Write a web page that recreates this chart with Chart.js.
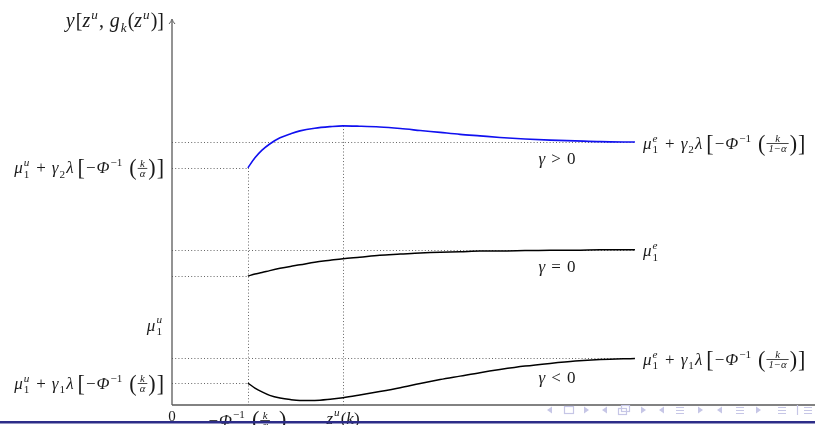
<!DOCTYPE html>
<html>
<head>
<meta charset="utf-8">
<script src="https://cdn.jsdelivr.net/npm/chart.js@4/dist/chart.umd.min.js"></script>
<style>
  html, body { margin: 0; padding: 0; background: #ffffff; }
  #c { display: block; }
</style>
</head>
<body>
<canvas id="c" width="815" height="425"></canvas>
<script>
// Sampled abscissae z (shared by all three curves)
const zValues = [1.18, 1.29, 1.40, 1.52, 1.68, 1.84, 1.99, 2.22, 2.46, 2.66, 2.92, 3.23,
                 3.55, 3.86, 4.17, 4.48, 4.79, 5.10, 5.49, 5.88, 6.27, 6.66, 7.20];
// y[z, g_k(z)] for gamma > 0, gamma = 0, gamma < 0
const gammaPositive = [6.16, 6.42, 6.62, 6.78, 6.94, 7.04, 7.12, 7.19, 7.23, 7.25, 7.24, 7.22,
                       7.18, 7.13, 7.08, 7.03, 6.99, 6.95, 6.91, 6.88, 6.86, 6.84, 6.83];
const gammaZero = [3.35, 3.40, 3.44, 3.49, 3.55, 3.60, 3.64, 3.71, 3.76, 3.80, 3.84, 3.89,
                   3.92, 3.95, 3.97, 3.98, 4.00, 4.00, 4.01, 4.02, 4.02, 4.03, 4.03];
const gammaNegative = [0.57, 0.44, 0.34, 0.25, 0.18, 0.14, 0.12, 0.12, 0.15, 0.19, 0.26, 0.35,
                       0.45, 0.56, 0.66, 0.75, 0.84, 0.92, 1.01, 1.08, 1.14, 1.18, 1.21];

// Reference abscissae: -Phi^{-1}(k/alpha), z^u(k), end of the plotted range
const zLow = 1.18;
const zPeak = 2.66;
const zEnd = 7.20;
// Reference levels (start values and asymptotes)
const startLevels = [6.16, 3.35, 0.57];
const asymLevels = [6.83, 4.03, 1.22];
const peakLevel = 7.25;
const muULevel = 2.08;

const F = 17;
const TEXT = '#1a1a1a';
function fnt(it, sz) {
  return (it ? 'italic ' : '') + sz.toFixed(1) + 'px "Liberation Serif", "DejaVu Serif", serif';
}

// Tiny math typesetter: tokens are text runs, sub/superscripts, fractions, big delimiters, gaps
function typeset(ctx, toks, x0, yc, size, draw) {
  const base = yc + size * 0.33;
  let x = x0;
  const small = size * 0.66;
  for (const t of toks) {
    if (t.g !== undefined) { x += t.g * size / F; continue; }
    if (t.t !== undefined) {
      const sz = size * (t.sc || 1);
      ctx.font = fnt(!!t.it, sz);
      const w = ctx.measureText(t.t).width;
      if (draw) ctx.fillText(t.t, x, base + (t.dy || 0) * size);
      x += w;
      continue;
    }
    if (t.br !== undefined) {
      const sz = size * 1.3;
      ctx.font = fnt(false, sz);
      const w = ctx.measureText(t.br).width;
      if (draw) ctx.fillText(t.br, x, base + size * 0.11);
      x += w + 1;
      continue;
    }
    if (t.sup !== undefined || t.sub !== undefined) {
      let w = 0;
      if (t.sup !== undefined) {
        ctx.font = fnt(t.supIt !== false && /[a-z]/.test(t.sup), small);
        const ws = ctx.measureText(t.sup).width;
        if (draw) ctx.fillText(t.sup, x + 1, base - size * 0.42);
        w = Math.max(w, ws);
      }
      if (t.sub !== undefined) {
        ctx.font = fnt(/[a-z]/.test(t.sub), small);
        const ws = ctx.measureText(t.sub).width;
        if (draw) ctx.fillText(t.sub, x + 1, base + size * 0.25);
        w = Math.max(w, ws);
      }
      x += w + 2;
      continue;
    }
    if (t.fr !== undefined) {
      const fs = size * 0.63;
      ctx.font = fnt(true, fs);
      const wn = ctx.measureText(t.fr[0]).width;
      const wd = ctx.measureText(t.fr[1]).width;
      const w = Math.max(wn, wd) + 4;
      if (draw) {
        const axis = base - size * 0.3;
        ctx.fillText(t.fr[0], x + (w - wn) / 2, axis - 1.5);
        ctx.fillText(t.fr[1], x + (w - wd) / 2, axis + fs * 0.72 + 0.5);
        ctx.fillRect(x, axis - 0.4, w, 0.8);
      }
      x += w + 1;
      continue;
    }
  }
  return x - x0;
}
function drawMath(ctx, toks, x, yc, align, size) {
  size = size || F;
  const w = typeset(ctx, toks, 0, yc, size, false);
  let x0 = x;
  if (align === 'right') x0 = x - w;
  else if (align === 'center') x0 = x - w / 2;
  ctx.fillStyle = TEXT;
  ctx.textAlign = 'left';
  ctx.textBaseline = 'alphabetic';
  typeset(ctx, toks, x0, yc, size, true);
}

const it = s => ({ t: s, it: true });
const rm = s => ({ t: s });
function bracketLabel(mu, gam, fracDen) {
  const toks = [it('μ'), { sub: '1', sup: mu }, { g: 6 }, rm('+'), { g: 6 }];
  if (gam) toks.push(it('γ'), { sub: gam });
  toks.push(it('λ'), { g: 4 }, { br: '[' }, rm('−'), { g: 1 }, it('Φ'), { sup: '−1', supIt: false },
    { g: 6 }, { br: '(' }, { fr: ['k', fracDen] }, { br: ')' }, { br: ']' });
  return toks;
}

const annotate = {
  id: 'annotate',
  beforeDatasetsDraw(chart) {
    const { ctx, scales: { x, y } } = chart;
    const X = v => x.getPixelForValue(v), Y = v => y.getPixelForValue(v);
    ctx.save();
    ctx.strokeStyle = '#666666';
    ctx.lineWidth = 1;
    ctx.setLineDash([1, 2.2]);
    ctx.beginPath();
    for (const v of asymLevels) { ctx.moveTo(X(0), Math.round(Y(v)) + 0.5); ctx.lineTo(X(zEnd), Math.round(Y(v)) + 0.5); }
    for (const v of startLevels) { ctx.moveTo(X(0), Math.round(Y(v)) + 0.5); ctx.lineTo(X(zLow), Math.round(Y(v)) + 0.5); }
    ctx.moveTo(Math.round(X(zLow)) + 0.5, Y(startLevels[0])); ctx.lineTo(Math.round(X(zLow)) + 0.5, Y(0));
    ctx.moveTo(Math.round(X(zPeak)) + 0.5, Y(peakLevel)); ctx.lineTo(Math.round(X(zPeak)) + 0.5, Y(0));
    ctx.stroke();
    ctx.restore();
  },
  afterDatasetsDraw(chart) {
    const { ctx, scales: { x, y } } = chart;
    const X = v => x.getPixelForValue(v), Y = v => y.getPixelForValue(v);
    ctx.save();
    // axes
    ctx.strokeStyle = '#5a5a5a';
    ctx.lineWidth = 1.3;
    ctx.beginPath();
    ctx.moveTo(X(0), Y(0)); ctx.lineTo(X(0), Y(10) + 1);
    ctx.moveTo(X(0), Y(0)); ctx.lineTo(815, Y(0));
    ctx.stroke();
    ctx.lineWidth = 1;
    ctx.beginPath();
    ctx.moveTo(X(0) - 3, Y(10) + 4); ctx.quadraticCurveTo(X(0) - 1, Y(10) + 2, X(0), Y(10) - 1);
    ctx.quadraticCurveTo(X(0) + 1, Y(10) + 2, X(0) + 3, Y(10) + 4);
    ctx.stroke();

    // axis title
    drawMath(ctx, [it('y'), { g: 1 }, rm('['), it('z'), { sup: 'u' }, rm(','), { g: 5 }, it('g'), { sub: 'k' },
      rm('('), it('z'), { sup: 'u' }, rm(')'), rm(']')], 164, Y(10) + 0.5, 'right', 20);

    // left levels
    drawMath(ctx, bracketLabel('u', '2', 'α'), 165, Y(startLevels[0]), 'right');
    drawMath(ctx, [it('μ'), { sub: '1', sup: 'u' }], 163, Y(muULevel), 'right');
    drawMath(ctx, bracketLabel('u', '1', 'α'), 165, Y(startLevels[2]), 'right');

    // right asymptote labels
    const xr = X(zEnd) + 8;
    drawMath(ctx, bracketLabel('e', '2', '1−α'), xr, Y(asymLevels[0]) + 1, 'left');
    drawMath(ctx, [it('μ'), { sub: '1', sup: 'e' }], xr, Y(asymLevels[1]) + 1, 'left');
    drawMath(ctx, bracketLabel('e', '1', '1−α'), xr, Y(asymLevels[2]) + 1, 'left');

    // regime labels
    const xg = 557;
    drawMath(ctx, [it('γ'), { g: 6 }, rm('>'), { g: 6 }, rm('0')], xg, Y(asymLevels[0]) + 16, 'center');
    drawMath(ctx, [it('γ'), { g: 6 }, rm('='), { g: 6 }, rm('0')], xg, Y(asymLevels[1]) + 17, 'center');
    drawMath(ctx, [it('γ'), { g: 6 }, rm('<'), { g: 6 }, rm('0')], xg, Y(asymLevels[2]) + 19, 'center');

    // x tick labels
    drawMath(ctx, [rm('0')], X(0), Y(0) + 11, 'center', 15);
    drawMath(ctx, [rm('−'), { g: 1 }, it('Φ'), { sup: '−1', supIt: false }, { g: 6 }, { br: '(' }, { fr: ['k', 'α'] }, { g: 8 }, { br: ')' }],
      X(zLow), Y(0) + 15, 'center');
    drawMath(ctx, [it('z'), { sup: 'u' }, rm('('), it('k'), rm(')')], X(zPeak), Y(0) + 13, 'center');

    // navigation symbols
    ctx.fillStyle = '#c6c6e6';
    ctx.strokeStyle = '#c6c6e6';
    ctx.lineWidth = 1.2;
    const yc = 410;
    const triL = cx => { ctx.beginPath(); ctx.moveTo(cx - 3, yc); ctx.lineTo(cx + 2, yc - 3.5); ctx.lineTo(cx + 2, yc + 3.5); ctx.fill(); };
    const triR = cx => { ctx.beginPath(); ctx.moveTo(cx + 3, yc); ctx.lineTo(cx - 2, yc - 3.5); ctx.lineTo(cx - 2, yc + 3.5); ctx.fill(); };
    const lines = cx => { ctx.beginPath(); for (const d of [-3, 0, 3]) { ctx.moveTo(cx - 4, yc + d + 0.5); ctx.lineTo(cx + 4, yc + d + 0.5); } ctx.stroke(); };
    triL(550); ctx.strokeRect(564.5, 406.5, 9, 7); triR(586);
    triL(605); ctx.strokeRect(618.5, 408.5, 8, 6); ctx.strokeRect(621.5, 405.5, 8, 6); triR(643);
    triL(662); lines(680); triR(700);
    triL(720); lines(740); triR(758);
    lines(782); ctx.beginPath(); ctx.moveTo(797.5, 405); ctx.lineTo(797.5, 415); ctx.stroke(); lines(808);

    // frame rule
    ctx.fillStyle = '#2c2c88';
    ctx.fillRect(0, 421, 815, 2.5);
    ctx.restore();
  }
};

const mk = vals => zValues.map((z, i) => ({ x: z, y: vals[i] }));

new Chart(document.getElementById('c'), {
  type: 'line',
  data: {
    datasets: [
      { data: mk(gammaPositive), borderColor: '#1010f0', borderWidth: 1.6 },
      { data: mk(gammaZero), borderColor: '#000000', borderWidth: 1.5 },
      { data: mk(gammaNegative), borderColor: '#000000', borderWidth: 1.5 }
    ]
  },
  options: {
    responsive: false,
    animation: false,
    events: [],
    layout: { padding: { left: 172, top: 20, right: 0, bottom: 20 } },
    elements: { point: { radius: 0 }, line: { cubicInterpolationMode: 'monotone', fill: false } },
    scales: {
      x: { type: 'linear', min: 0, max: 10, display: false },
      y: { type: 'linear', min: 0, max: 10, display: false }
    },
    plugins: { legend: { display: false }, tooltip: { enabled: false } }
  },
  plugins: [annotate]
});
</script>
</body>
</html>
